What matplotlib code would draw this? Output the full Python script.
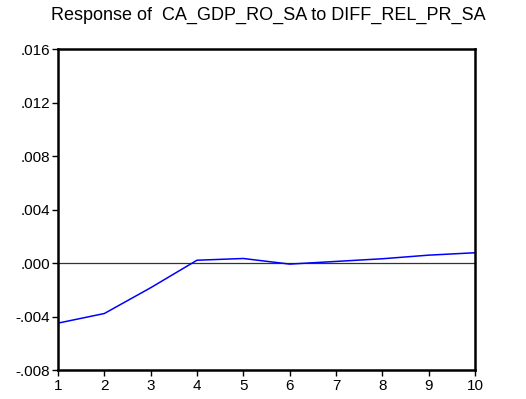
import matplotlib
matplotlib.use("Agg")
import matplotlib.pyplot as plt
from matplotlib.ticker import FuncFormatter

plt.rcParams['font.family'] = ['Liberation Sans', 'DejaVu Sans']

periods = [1, 2, 3, 4, 5, 6, 7, 8, 9, 10]
response = [-0.00449, -0.00377, -0.00184, 0.00022, 0.00035, -0.00007, 0.00013, 0.00033, 0.00060, 0.00078]
yticks = [-0.008, -0.004, 0.000, 0.004, 0.008, 0.012, 0.016]
title = "Response of  CA_GDP_RO_SA to DIFF_REL_PR_SA"

fig = plt.figure(figsize=(5.26, 3.99), dpi=100)
ax = fig.add_axes([58/526, 1-370/399, (475-58)/526, (370-49.5)/399])
ax.axhline(0, color='#333333', lw=0.9, zorder=1)
ax.plot(periods, response, color='#0000ff', lw=1.1, zorder=2)
ax.set_xlim(1, 10)
ax.set_ylim(-0.008, 0.016)
ax.set_xticks(periods)
ax.set_yticks(yticks)

def fmt(v, pos):
    s = f"{v:.3f}"
    if s.startswith("-0"):
        s = "-" + s[2:]
    elif s.startswith("0"):
        s = s[1:]
    return s

ax.yaxis.set_major_formatter(FuncFormatter(fmt))
for sp in ax.spines.values():
    sp.set_linewidth(1.8)
ax.tick_params(direction='out', length=4.5, width=1, labelsize=11, pad=1)
ax.tick_params(axis='x', pad=2)
fig.text(268/526, 1-20/399, title, fontsize=13, ha='center', va='baseline')
fig.savefig("out.png", dpi=100)
